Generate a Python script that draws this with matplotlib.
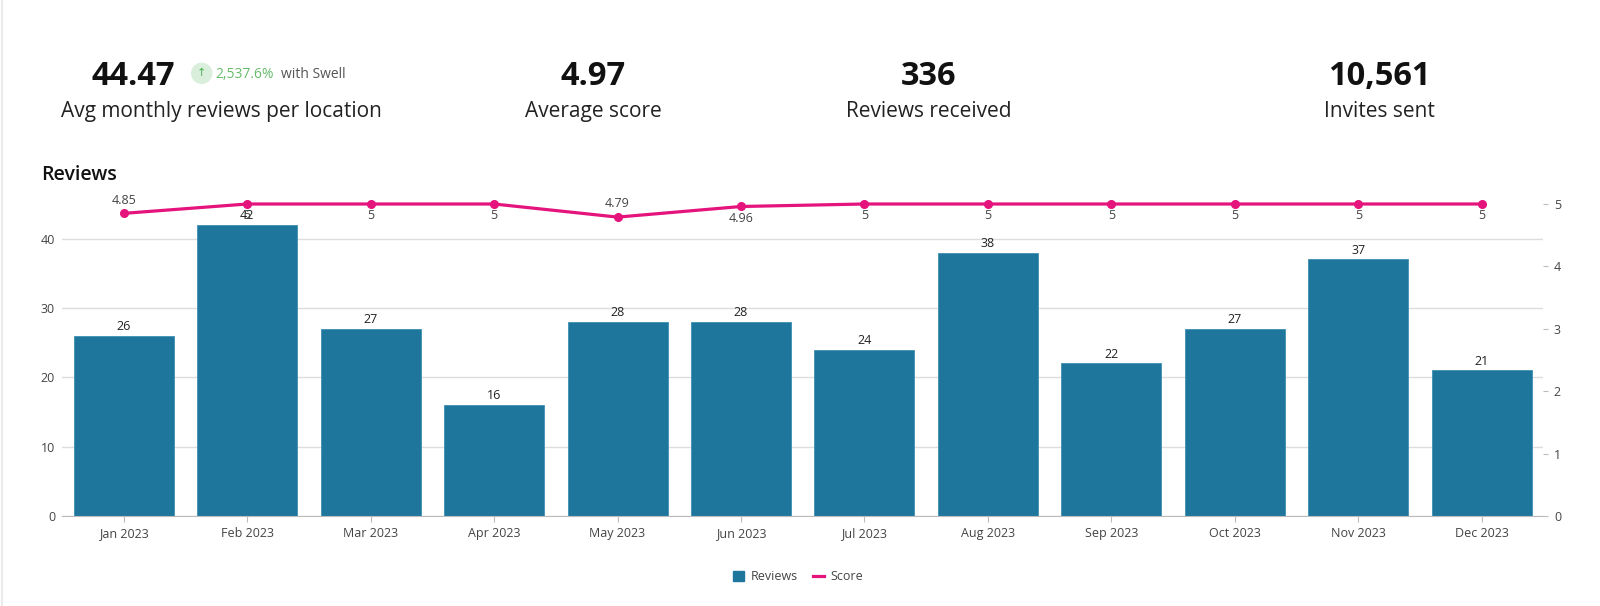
import matplotlib
matplotlib.use("Agg")
import matplotlib.pyplot as plt
from matplotlib.patches import Circle
from matplotlib.lines import Line2D
from matplotlib.patches import Patch

plt.rcParams['font.family'] = ['Open Sans', 'DejaVu Sans']

# ---- data ----
months = ["Jan 2023", "Feb 2023", "Mar 2023", "Apr 2023", "May 2023", "Jun 2023",
          "Jul 2023", "Aug 2023", "Sep 2023", "Oct 2023", "Nov 2023", "Dec 2023"]
reviews = [26, 42, 27, 16, 28, 28, 24, 38, 22, 27, 37, 21]
scores = [4.85, 5, 5, 5, 4.79, 4.96, 5, 5, 5, 5, 5, 5]
score_labels = ["4.85", "5", "5", "5", "4.79", "4.96", "5", "5", "5", "5", "5", "5"]

kpi_values = ["44.47", "4.97", "336", "10,561"]
kpi_labels = ["Avg monthly reviews per location", "Average score", "Reviews received", "Invites sent"]
kpi_change = "2,537.6%"
kpi_change_suffix = "with Swell"

left_ticks = [0, 10, 20, 30, 40]
right_ticks = [0, 1, 2, 3, 4, 5]

BAR = "#1f769c"
PINK = "#e5137c"
TXT = "#222222"
GREY = "#444444"

W, H = 1600, 606
fig = plt.figure(figsize=(W / 100, H / 100), dpi=100)
fig.patch.set_facecolor("white")


def fx(px):
    return px / W


def fy(py):
    return 1 - py / H


# card border at left
fig.add_artist(Line2D([fx(1.5), fx(1.5)], [0, 1], color="#e6e6e6", lw=1.2))

# ---- KPI header ----
kpi_centers = [None, 593, 929, 1379]
# first KPI: value + badge
fig.text(fx(92), fy(85), kpi_values[0], fontsize=23.5, fontweight="bold", color="#111111",
         ha="left", va="baseline")
badge = Circle((fx(201.7) * W, fy(73.3) * H), 10, transform=None, color="#d9efdc", zorder=3)
fig.add_artist(badge)
fig.text(fx(201.7), fy(73.3), "↑", fontsize=8, color="#4caf50", ha="center", va="center",
         family=["DejaVu Sans"], zorder=4)
fig.text(fx(215), fy(78.5), kpi_change, fontsize=10, color="#66bb6a", ha="left", va="baseline")
fig.text(fx(281), fy(78.5), kpi_change_suffix, fontsize=10, color="#555555", ha="left", va="baseline")
fig.text(fx(221), fy(116.7), kpi_labels[0], fontsize=15, color=TXT, ha="center", va="baseline")
for i in range(1, 4):
    fig.text(fx(kpi_centers[i]), fy(85), kpi_values[i], fontsize=23.5, fontweight="bold",
             color="#111111", ha="center", va="baseline")
    fig.text(fx(kpi_centers[i]), fy(116.7), kpi_labels[i], fontsize=15, color=TXT,
             ha="center", va="baseline")

# chart title
fig.text(fx(41), fy(180), "Reviews", fontsize=14, fontweight="semibold", color="#111111",
         ha="left", va="baseline")

# ---- chart ----
ax_l, ax_r, ax_t, ax_b = 62, 1543.5, 204, 516
ax = fig.add_axes([fx(ax_l), fy(ax_b), (ax_r - ax_l) / W, (ax_b - ax_t) / H])
x = list(range(len(months)))
bars = ax.bar(x, reviews, width=0.81, color=BAR, edgecolor="#3f8fb3", linewidth=0.6, zorder=2)
ax.set_xlim(-0.5, len(months) - 0.5)
ax.set_ylim(0, 45)
ax.set_yticks(left_ticks)
ax.set_xticks(x)
ax.set_xticklabels(months)
ax.grid(axis="y", color="#dddddd", linewidth=1, zorder=0)
ax.set_axisbelow(True)
for s in ["top", "right", "left"]:
    ax.spines[s].set_visible(False)
ax.spines["bottom"].set_color("#bbbbbb")
ax.tick_params(axis="y", length=0, pad=5, labelsize=9, labelcolor=GREY)
ax.tick_params(axis="x", length=4, color="#bbbbbb", pad=4, labelsize=9, labelcolor=GREY)

for xi, v in zip(x, reviews):
    ax.annotate(str(v), (xi, v), xytext=(0, 2), textcoords="offset points",
                ha="center", va="bottom", fontsize=9, color="#222222", zorder=5)

ax2 = ax.twinx()
ax2.set_ylim(0, 5)
ax2.set_yticks(right_ticks)
for s in ["top", "right", "left", "bottom"]:
    ax2.spines[s].set_visible(False)
ax2.tick_params(axis="y", length=3.5, color="#bbbbbb", pad=4, labelsize=9, labelcolor=GREY)
ax2.plot(x, scores, color=PINK, linewidth=2.3, marker="o", markersize=5.5, zorder=6,
         clip_on=False, solid_capstyle="round")

n = len(scores)
for i, (xi, s, lab) in enumerate(zip(x, scores, score_labels)):
    neigh = [scores[j] for j in (i - 1, i + 1) if 0 <= j < n]
    local_min = all(s < v for v in neigh)
    if local_min:
        ax2.annotate(lab, (xi, s), xytext=(0, 9.5), textcoords="offset points",
                     ha="center", va="center", fontsize=9, color=GREY, zorder=7)
    else:
        ax2.annotate(lab, (xi, s), xytext=(0, -8.3), textcoords="offset points",
                     ha="center", va="center", fontsize=9, color=GREY, zorder=7)

# legend
handles = [Patch(facecolor=BAR, edgecolor=BAR, label="Reviews"),
           Line2D([0], [0], color=PINK, linewidth=2.3, label="Score")]
fig.legend(handles=handles, loc="center", bbox_to_anchor=(fx(798), fy(577)), ncol=2,
           frameon=False, fontsize=9, handlelength=0.9, handleheight=0.9,
           handletextpad=0.5, columnspacing=1.2, labelcolor=GREY)

fig.savefig("out.png", dpi=100, facecolor="white")
